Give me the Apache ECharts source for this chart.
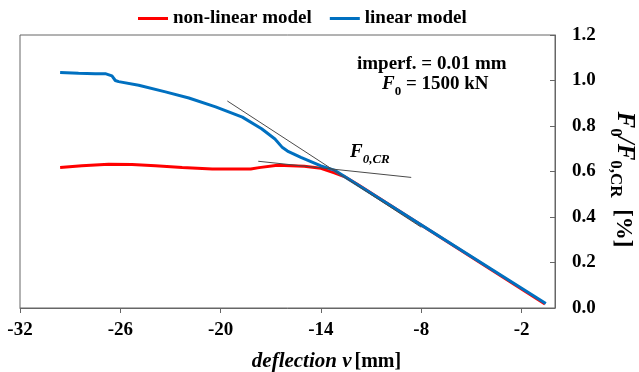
<!DOCTYPE html>
<html>
<head>
<meta charset="utf-8">
<script src="https://cdn.jsdelivr.net/npm/echarts@6/dist/echarts.min.js"></script>
<style>
  html, body { margin: 0; padding: 0; background: #fff; }
  #chart { width: 639px; height: 372px; }
</style>
</head>
<body>
<div id="chart"></div>
<script>
// values: [deflection v (mm), F0/F0,CR]
const nonLinear = [
  [-29.6, 0.618], [-28.3, 0.625], [-26.7, 0.632], [-25.3, 0.631], [-23.9, 0.625],
  [-22.3, 0.618], [-20.5, 0.611], [-18.2, 0.611], [-17.7, 0.617], [-16.6, 0.627],
  [-15.0, 0.623], [-14.0, 0.614], [-13.2, 0.594], [-12.6, 0.578], [-11.8, 0.543],
  [-0.6, 0.018]
];
const linear = [
  [-29.6, 1.035], [-28.5, 1.032], [-27.5, 1.030], [-26.9, 1.030], [-26.5, 1.020],
  [-26.3, 1.000], [-26.1, 0.995], [-24.9, 0.979], [-23.3, 0.950], [-21.9, 0.923],
  [-20.3, 0.884], [-18.7, 0.839], [-17.55, 0.788], [-16.75, 0.743], [-16.3, 0.705],
  [-16.0, 0.690], [-15.2, 0.662], [-14.0, 0.625], [-13.2, 0.606], [-0.55, 0.020]
];
const tangentSteep = [[-19.6, 0.91], [-8.0, 0.355]];
const tangentFlat = [[-17.75, 0.645], [-8.6, 0.574]];
const xTicks = [-32, -26, -20, -14, -8, -2];

const serif = 'Liberation Serif';
const chart = echarts.init(document.getElementById('chart'));

// tangent lines are plain thin series on top
function tangent(data) {
  return {
    type: 'line', data: data, showSymbol: false, silent: true, z: 5,
    lineStyle: { color: '#4a4a4a', width: 1 }
  };
}

chart.setOption({
  animation: false,
  textStyle: { fontFamily: serif },
  legend: {
    top: 4, left: 133,
    icon: 'rect', itemWidth: 30, itemHeight: 3, itemGap: 18,
    textStyle: { fontFamily: serif, fontWeight: 'bold', fontSize: 19, color: '#000' },
    data: ['non-linear model', 'linear model']
  },
  grid: {
    left: 20, right: 84, top: 35, bottom: 64,
    outerBoundsMode: 'none', containLabel: false,
    show: true, borderColor: '#666', borderWidth: 1
  },
  xAxis: {
    type: 'value', min: -32, max: 0, interval: 6,
    splitLine: { show: false },
    axisLine: { lineStyle: { color: '#666' } },
    axisTick: { inside: false, length: 5, customValues: xTicks, lineStyle: { color: '#666' } },
    axisLabel: {
      customValues: xTicks, margin: 13,
      fontFamily: serif, fontWeight: 'bold', fontSize: 19, color: '#000'
    },
    name: '{i|deflection v} {n|[mm]}',
    nameLocation: 'middle', nameGap: 43,
    nameTextStyle: {
      padding: [0, 0, 0, 78],
      rich: {
        i: { fontFamily: serif, fontStyle: 'italic', fontWeight: 'bold', fontSize: 21, color: '#000' },
        n: { fontFamily: serif, fontWeight: 'bold', fontSize: 20, color: '#000' }
      }
    }
  },
  yAxis: {
    type: 'value', position: 'right', min: 0, max: 1.2, interval: 0.2,
    splitLine: { show: false },
    axisLine: { show: true, lineStyle: { color: '#666' } },
    axisTick: { show: true, inside: true, length: 5, lineStyle: { color: '#666' } },
    axisLabel: {
      margin: 17, formatter: v => v.toFixed(1),
      fontFamily: serif, fontWeight: 'bold', fontSize: 19, color: '#000'
    },
    name: '{f|F}{s|0}{f|/F}{s|0,CR}{n|  [%]}',
    nameLocation: 'middle', nameRotate: -90, nameGap: 52,
    nameTextStyle: {
      padding: [0, 0, 0, 16],
      rich: {
        f: { fontFamily: serif, fontStyle: 'italic', fontWeight: 'bold', fontSize: 25, color: '#000',
             verticalAlign: 'bottom', padding: [0, 0, 5, 0] },
        s: { fontFamily: serif, fontWeight: 'bold', fontSize: 17, color: '#000', verticalAlign: 'bottom' },
        n: { fontFamily: serif, fontWeight: 'bold', fontSize: 23, color: '#000',
             verticalAlign: 'bottom', padding: [0, 0, 4, 0] }
      }
    }
  },
  graphic: [
    {
      type: 'text', left: 357, top: 55,
      style: { text: 'imperf. = 0.01 mm', font: 'bold 19px ' + serif, fill: '#000' }
    },
    {
      type: 'text', left: 382, top: 75,
      style: {
        text: '{f|F}{s|0}{n| = 1500 kN}',
        rich: {
          f: { font: 'italic bold 19px ' + serif, fill: '#000', verticalAlign: 'bottom', padding: [0, 0, 4, 0] },
          s: { font: 'bold 13px ' + serif, fill: '#000', verticalAlign: 'bottom' },
          n: { font: 'bold 19px ' + serif, fill: '#000', verticalAlign: 'bottom', padding: [0, 0, 4, 0] }
        }
      }
    },
    {
      type: 'text', left: 350, top: 143,
      style: {
        text: '{f|F}{s|0,CR}',
        rich: {
          f: { font: 'italic bold 19px ' + serif, fill: '#000', verticalAlign: 'bottom', padding: [0, 0, 4, 0] },
          s: { font: 'italic bold 13px ' + serif, fill: '#000', verticalAlign: 'bottom' }
        }
      }
    }
  ],
  series: [
    {
      name: 'non-linear model', type: 'line', data: nonLinear, showSymbol: false,
      itemStyle: { color: '#ff0000' }, lineStyle: { color: '#ff0000', width: 3 }, z: 2
    },
    {
      name: 'linear model', type: 'line', data: linear, showSymbol: false,
      itemStyle: { color: '#0070c0' }, lineStyle: { color: '#0070c0', width: 3 }, z: 3
    },
    tangent(tangentSteep),
    tangent(tangentFlat)
  ]
});
</script>
</body>
</html>
